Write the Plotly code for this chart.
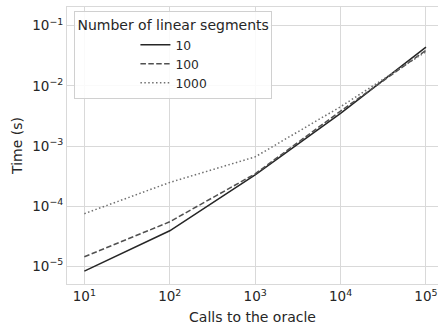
import plotly.graph_objects as go

# Oracle calls (x) and runtime in seconds for each segment count
calls = [10, 100, 1000, 10000, 100000]
time_10 = [8.3e-6, 3.9e-5, 3.3e-4, 3.5e-3, 0.044]
time_100 = [1.44e-5, 5.5e-5, 3.45e-4, 3.8e-3, 0.039]
time_1000 = [7.5e-5, 2.48e-4, 6.6e-4, 4.5e-3, 0.037]

series_names = ["10", "100", "1000"]
x_tick_vals = [10, 100, 1000, 10000, 100000]
x_tick_text = ["10<sup>1</sup>", "10<sup>2</sup>", "10<sup>3</sup>", "10<sup>4</sup>", "10<sup>5</sup>"]
y_tick_vals = [1e-5, 1e-4, 1e-3, 1e-2, 1e-1]
y_tick_text = ["10<sup>−5</sup>", "10<sup>−4</sup>", "10<sup>−3</sup>", "10<sup>−2</sup>", "10<sup>−1</sup>"]

text_color = "#262626"
grid_color = "#d9d9d9"
font_family = "DejaVu Sans"

styles = [
    dict(color="#262626", dash="solid", width=1.5),
    dict(color="#505050", dash="5.5px,2.4px", width=1.5),
    dict(color="#707070", dash="1.5px,2.4px", width=1.5),
]

fig = go.Figure()
for name, ys, st in zip(series_names, [time_10, time_100, time_1000], styles):
    fig.add_trace(go.Scatter(
        x=calls, y=ys, mode="lines", name=name,
        line=dict(color=st["color"], dash=st["dash"], width=st["width"]),
    ))

fig.update_layout(
    width=438, height=327,
    margin=dict(l=67, r=0, t=7, b=43),
    paper_bgcolor="white", plot_bgcolor="white",
    font=dict(family=font_family, size=14, color=text_color),
    legend=dict(
        title=dict(text="Number of linear segments", font=dict(size=14, color=text_color), side="top"),
        x=0.02, y=0.985, xanchor="left", yanchor="top",
        bgcolor="rgba(255,255,255,0.85)",
        bordercolor="#d0d0d0", borderwidth=1,
        font=dict(size=12.3, color=text_color),
        indentation=60,
        tracegroupgap=0,
    ),
    showlegend=True,
)

fig.update_xaxes(
    type="log", range=[0.797, 5.141],
    tickvals=x_tick_vals, ticktext=x_tick_text,
    showgrid=True, gridcolor=grid_color, gridwidth=1,
    zeroline=False, showline=True, linecolor=grid_color, linewidth=1, mirror=True,
    ticks="", tickfont=dict(size=13.5, color=text_color),
    title=dict(text="Calls to the oracle", font=dict(size=14, color=text_color), standoff=8),
)
fig.update_yaxes(
    type="log", range=[-5.294, -0.689],
    tickvals=y_tick_vals, ticktext=y_tick_text,
    showgrid=True, gridcolor=grid_color, gridwidth=1,
    zeroline=False, showline=True, linecolor=grid_color, linewidth=1, mirror=True,
    ticks="", tickfont=dict(size=13.5, color=text_color),
    title=dict(text="Time (s)", font=dict(size=14, color=text_color), standoff=6),
)

fig.write_html("out.html")
